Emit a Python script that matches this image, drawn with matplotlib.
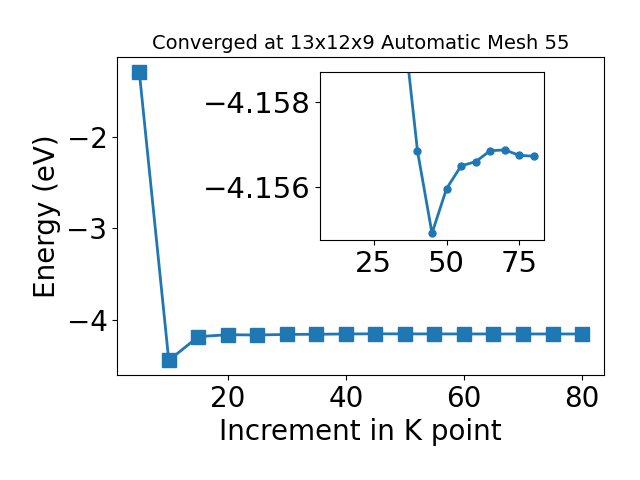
import matplotlib
matplotlib.use('Agg')
import matplotlib.pyplot as plt

kpoint = [5, 10, 15, 20, 25, 30, 35, 40, 45, 50, 55, 60, 65, 70, 75, 80]
energy = [-1.29, -4.446, -4.186, -4.165, -4.168, -4.162, -4.1600,
          -4.15685, -4.15489, -4.15595, -4.15649, -4.15659,
          -4.15685, -4.15687, -4.15674, -4.15672]

fig = plt.figure(figsize=(6.4, 4.8), dpi=100)
ax = fig.add_axes([0.183, 0.219, 0.761, 0.662])
ax.plot(kpoint, energy, marker='s', markersize=10, linewidth=2)
ax.set_xlabel('Increment in K point', fontsize=20)
ax.set_ylabel('Energy (eV)', fontsize=20)
ax.set_title('Converged at 13x12x9 Automatic Mesh 55', fontsize=14)
ax.tick_params(labelsize=20)

# zoomed view
ins = fig.add_axes([0.5, 0.5, 0.35, 0.35])
ins.plot(kpoint[1:], energy[1:], marker='o', markersize=5, linewidth=2)
ins.set_ylim(-4.15473, -4.15872)
ins.set_yticks([-4.158, -4.156])
ins.set_xticks([25, 50, 75])
ins.tick_params(labelsize=21)

fig.savefig('out.png')
